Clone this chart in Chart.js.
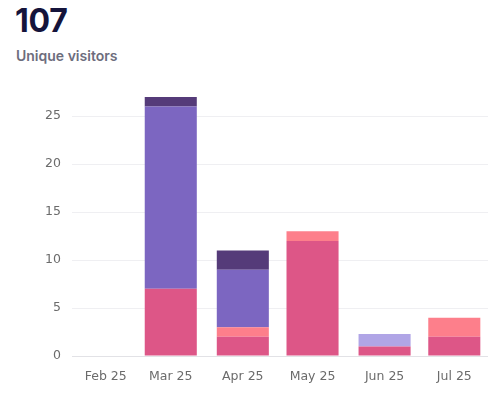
<!DOCTYPE html>
<html>
<head>
<meta charset="utf-8">
<script src="https://cdn.jsdelivr.net/npm/chart.js@4/dist/chart.umd.min.js"></script>
<style>
  html, body { margin: 0; padding: 0; background: #fff; overflow: hidden; width: 488px; height: 399px; }
  #total { position: absolute; left: 15px; top: 1px; font-family: Inter, "Open Sans", sans-serif; font-weight: 700; font-size: 32px; color: #15143b; letter-spacing: -0.3px; }
  #label { position: absolute; left: 16px; top: 47px; font-family: Inter, "Open Sans", sans-serif; font-weight: 600; font-size: 14px; color: #6d6d7d; }
  #wrap { position: absolute; left: 0; top: 0; width: 488px; height: 399px; }
</style>
</head>
<body>
<div id="total">107</div>
<div id="label">Unique visitors</div>
<div id="wrap"><canvas id="c"></canvas></div>
<script>
const monthDates  = ["2025-02-01", "2025-03-01", "2025-04-01", "2025-05-01", "2025-06-01", "2025-07-01"];
const monthLabels = ["Feb 25", "Mar 25", "Apr 25", "May 25", "Jun 25", "Jul 25"];
const seriesPink     = [0, 7, 2, 12, 1, 2];
const seriesSalmon   = [0, 0, 1, 1, 0, 2];
const seriesLavender = [0, 0, 0, 0, 1.3, 0];
const seriesPurple   = [0, 19, 6, 0, 0, 0];
const seriesDark     = [0, 1, 2, 0, 0, 0];
const yTicks = [0, 5, 10, 15, 20, 25];

// time axis emulated with day offsets from the first month
const toDay = s => { const [y, m, d] = s.split('-').map(Number); return Date.UTC(y, m - 1, d) / 86400000; };
const day0 = toDay(monthDates[0]);
const xDays = monthDates.map(s => toDay(s) - day0);

const all = [seriesPink, seriesSalmon, seriesLavender, seriesPurple, seriesDark];
const totals = xDays.map((_, i) => all.reduce((s, a) => s + a[i], 0));
const yMax = Math.max(...totals);

const mk = (vals, color) => ({
  data: vals.map((v, i) => ({ x: xDays[i], y: v })),
  backgroundColor: color, borderWidth: 0, categoryPercentage: 0.8, barPercentage: 1
});

const pad = 14.5; // half-month margin on each side of the time axis
new Chart(document.getElementById('c'), {
  type: 'bar',
  data: {
    datasets: [
      mk(seriesPink, '#dd5687'),
      mk(seriesSalmon, '#fd7f8b'),
      mk(seriesLavender, '#b0a5e6'),
      mk(seriesPurple, '#7c66c1'),
      mk(seriesDark, '#553b79')
    ]
  },
  options: {
    responsive: true,
    maintainAspectRatio: false,
    animation: false,
    layout: { padding: { top: 97, left: 0, right: 0, bottom: 2 } },
    plugins: { legend: { display: false }, tooltip: { enabled: false } },
    scales: {
      x: {
        type: 'linear',
        stacked: true,
        offset: false,
        min: xDays[0] - pad,
        max: xDays[xDays.length - 1] + pad,
        afterBuildTicks: (scale) => { scale.ticks = xDays.map(v => ({ value: v })); },
        grid: { display: false, drawTicks: false },
        border: { display: true, color: '#e2e2e6' },
        ticks: {
          color: '#6b6b6b', font: { family: 'DejaVu Sans', size: 12.5 }, padding: 13,
          maxRotation: 0, autoSkip: false,
          callback: (v) => { const i = xDays.indexOf(v); return i >= 0 ? monthLabels[i] : ''; }
        }
      },
      y: {
        stacked: true,
        min: 0,
        max: yMax,
        afterBuildTicks: (scale) => { scale.ticks = yTicks.map(v => ({ value: v })); },
        afterFit: (scale) => { scale.width = 72; },
        grid: { color: '#efeff2', drawTicks: false },
        border: { display: false },
        ticks: { color: '#6b6b6b', font: { family: 'DejaVu Sans', size: 12.5 }, padding: 11 }
      }
    }
  }
});
</script>
</body>
</html>
